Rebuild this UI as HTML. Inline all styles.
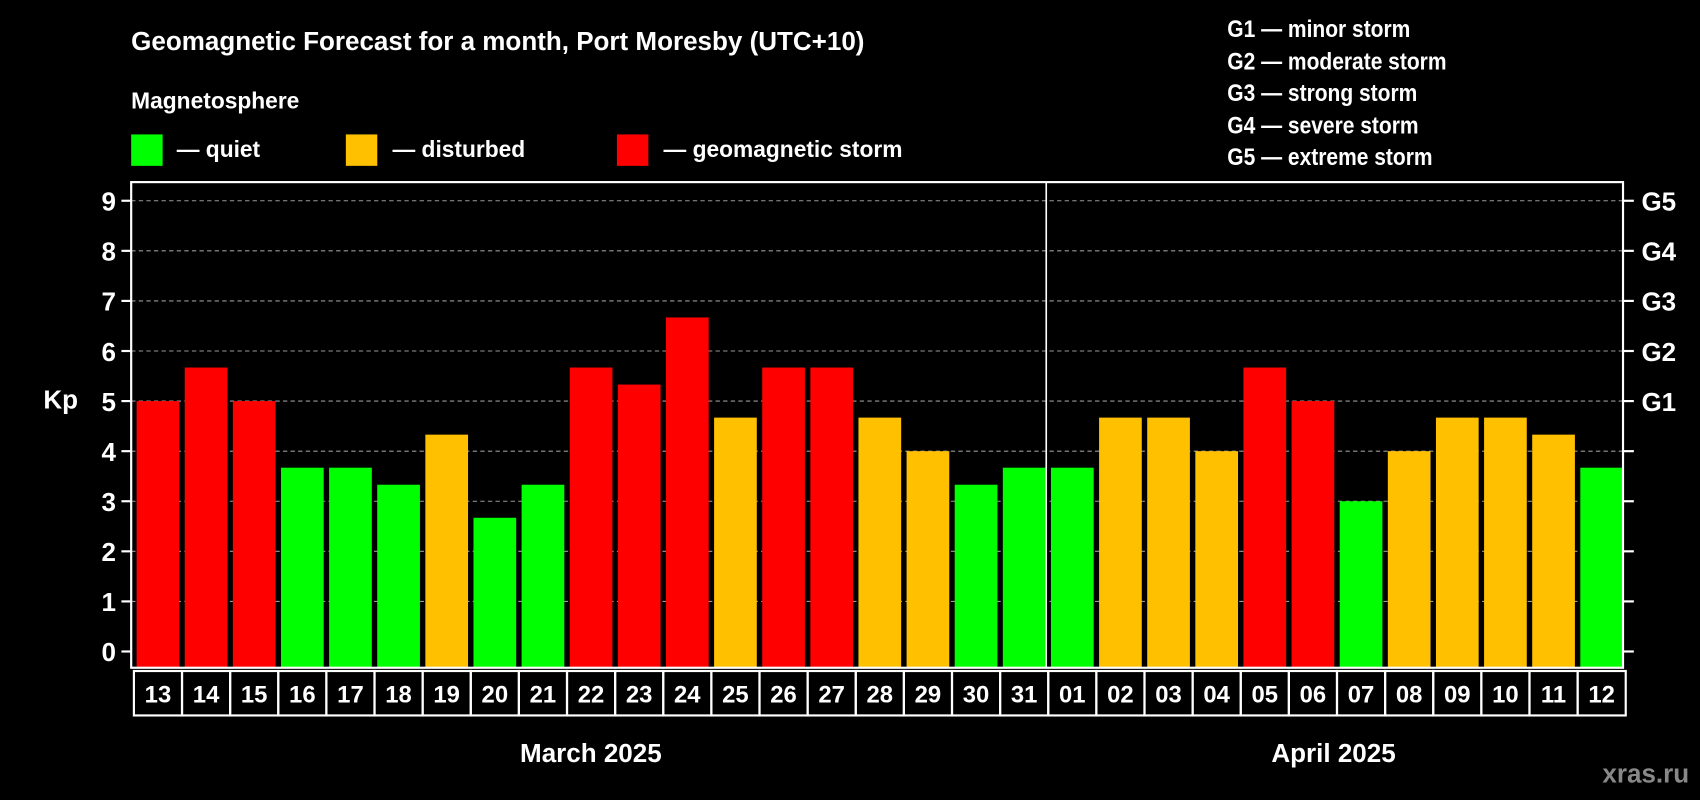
<!DOCTYPE html>
<html><head><meta charset="utf-8"><style>
html,body{margin:0;padding:0;background:#000;}
svg{display:block;font-family:"Liberation Sans",Arial,sans-serif;font-weight:bold;}
</style></head><body>
<svg id="chart" width="1700" height="800" viewBox="0 0 1568 738" preserveAspectRatio="none" xmlns="http://www.w3.org/2000/svg">
<rect width="1568" height="738" fill="#000"/>
<text x="121" y="46" fill="#fff" font-size="24">Geomagnetic Forecast for a month, Port Moresby (UTC+10)</text>
<text x="121" y="100" fill="#fff" font-size="21">Magnetosphere</text>
<g><rect x="121" y="124" width="29" height="29" fill="#00ff00"/><text x="163" y="145" fill="#fff" font-size="21">— quiet</text></g>
<g><rect x="319" y="124" width="29" height="29" fill="#ffc000"/><text x="362" y="145" fill="#fff" font-size="21">— disturbed</text></g>
<g><rect x="569" y="124" width="29" height="29" fill="#ff0000"/><text x="612" y="145" fill="#fff" font-size="21">— geomagnetic storm</text></g>
<g fill="#fff" font-size="22" transform="translate(1132,0) scale(0.88,1)">
<text x="0" y="34">G1 — minor storm</text>
<text x="0" y="64">G2 — moderate storm</text>
<text x="0" y="93">G3 — strong storm</text>
<text x="0" y="123">G4 — severe storm</text>
<text x="0" y="152">G5 — extreme storm</text>
</g>
<g id="grid"></g>
<g id="bars"></g>
<rect x="121" y="168" width="1376" height="448" fill="none" stroke="#fff" stroke-width="2"/>
<line x1="965" y1="168" x2="965" y2="616" stroke="#fff" stroke-width="1.5"/>
<g id="axes"></g>
<text x="40" y="377" fill="#fff" font-size="24">Kp</text>
<text x="545" y="703" fill="#fff" font-size="24" text-anchor="middle">March 2025</text>
<text x="1230" y="703" fill="#fff" font-size="24" text-anchor="middle">April 2025</text>
<text x="1558" y="722" fill="#888" font-size="24" text-anchor="end">xras.ru</text>
</svg>
<script>
const days = ["13","14","15","16","17","18","19","20","21","22","23","24","25","26","27","28","29","30","31","01","02","03","04","05","06","07","08","09","10","11","12"];
const kpValues = [5,5.67,5,3.67,3.67,3.33,4.33,2.67,3.33,5.67,5.33,6.67,4.67,5.67,5.67,4.67,4,3.33,3.67,3.67,4.67,4.67,4,5.67,5,3,4,4.67,4.67,4.33,3.67];
const yTicks = [0,1,2,3,4,5,6,7,8,9];
const gLabels = {5:"G1",6:"G2",7:"G3",8:"G4",9:"G5"};

const NS="http://www.w3.org/2000/svg";
const plotL=121, plotR=1497, plotB=616;
const y0=601, unit=46.2;
const step=(plotR-plotL)/days.length;
function yScale(v){return y0-v*unit;}
function xScale(i){return plotL+i*step;}
function mk(tag,attrs,parent){const e=document.createElementNS(NS,tag);for(const k in attrs)e.setAttribute(k,attrs[k]);parent.appendChild(e);return e;}
function color(v){return v>=5?"#ff0000":(v>=4?"#ffc000":"#00ff00");}

const grid=document.getElementById('grid'), bars=document.getElementById('bars'), axes=document.getElementById('axes');
yTicks.forEach(t=>{
  const y=yScale(t);
  if(t>0){const l=mk('line',{x1:plotL,x2:plotR,y1:y,y2:y,stroke:'#999','stroke-dasharray':'4,3','stroke-width':1},grid);
  
  }
  const tl=mk('line',{x1:plotL-9,x2:plotL,y1:y,y2:y,stroke:'#fff','stroke-width':2},axes);
  
  
  const tr=mk('line',{x1:plotR,x2:plotR+10,y1:y,y2:y,stroke:'#fff','stroke-width':2},axes);
  
  
  const tx=mk('text',{x:107,y:y+9,fill:'#fff','font-size':24,'text-anchor':'end'},axes);
  tx.textContent=t;
  
  
  if(gLabels[t]){const g=mk('text',{x:1514,y:y+9,fill:'#fff','font-size':24},axes);g.textContent=gLabels[t];
  
  }
});
days.forEach((d,i)=>{
  const v=kpValues[i], x=xScale(i);
  const r=mk('rect',{x:x+5,y:yScale(v),width:step-5,height:plotB-yScale(v),fill:color(v)},bars);
  
  
  const c=mk('rect',{x:x+2.5,y:619,width:step,height:41,fill:'none',stroke:'#fff','stroke-width':2},axes);
  
  
  const t=mk('text',{x:x+2.5+step/2,y:648,fill:'#fff','font-size':22,'text-anchor':'middle'},axes);
  t.textContent=d;
  
  
});
</script>
</body></html>
